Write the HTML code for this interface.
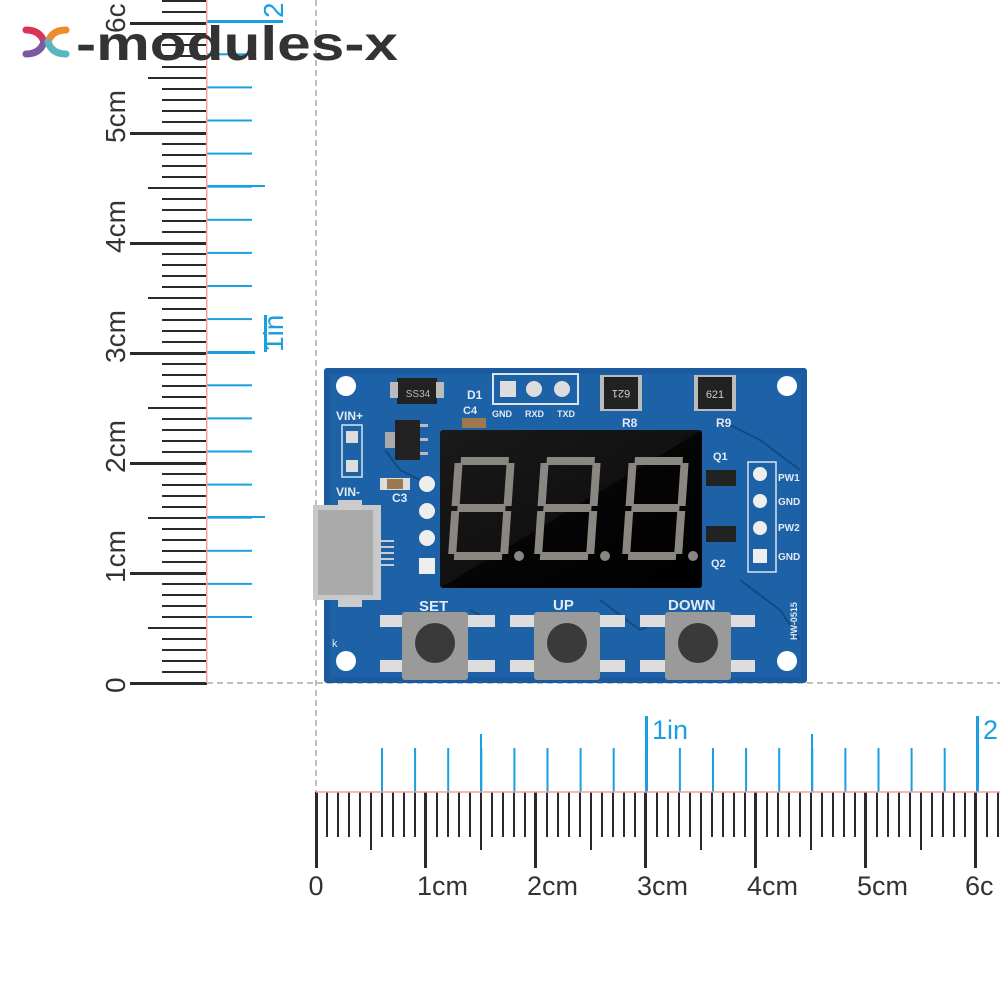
<!DOCTYPE html>
<html><head><meta charset="utf-8"><style>
html,body{margin:0;padding:0;background:#fff;width:1000px;height:1000px;overflow:hidden}
svg{display:block}
text{font-family:"Liberation Sans",Arial,sans-serif}
</style></head><body>
<svg width="1000" height="1000" viewBox="0 0 1000 1000" xmlns="http://www.w3.org/2000/svg">
<defs>
<pattern id="hmm" patternUnits="userSpaceOnUse" x="315" y="0" width="11" height="10"><rect x="0" y="0" width="2" height="10" fill="#2a2a2a"/></pattern>
<pattern id="hbl" patternUnits="userSpaceOnUse" x="381" y="0" width="33.1" height="10"><rect x="0" y="0" width="2" height="10" fill="#1aa0e0"/></pattern>
<pattern id="vmm" patternUnits="userSpaceOnUse" x="0" y="682" width="10" height="11"><rect x="0" y="0" width="10" height="2" fill="#2a2a2a"/></pattern>
<pattern id="vbl" patternUnits="userSpaceOnUse" x="0" y="616" width="10" height="33.1"><rect x="0" y="0" width="10" height="2" fill="#1aa0e0"/></pattern>
<linearGradient id="disp" x1="0" y1="0" x2="1" y2="1"><stop offset="0" stop-color="#1a1a1a"/><stop offset="0.5" stop-color="#111"/><stop offset="0.5" stop-color="#050505"/><stop offset="1" stop-color="#000"/></linearGradient>
<g id="dig" fill="#8a8682">
<rect x="6" y="0" width="48" height="8"/>
<rect x="6" y="47" width="48" height="8"/>
<rect x="6" y="95" width="48" height="8"/>
<rect x="0" y="6" width="8" height="43"/>
<rect x="52" y="6" width="8" height="43"/>
<rect x="0" y="54" width="8" height="43"/>
<rect x="52" y="54" width="8" height="43"/>
</g>
</defs>

<line x1="316" y1="0" x2="316" y2="792" stroke="#aaa" stroke-width="1.5" stroke-dasharray="6,4"/>
<line x1="207" y1="683" x2="1000" y2="683" stroke="#aaa" stroke-width="1.5" stroke-dasharray="6,4"/>

<rect x="315" y="792" width="685" height="45" fill="url(#hmm)"/>
<g fill="#2a2a2a">
<rect x="370" y="792" width="2" height="58"/><rect x="480" y="792" width="2" height="58"/><rect x="590" y="792" width="2" height="58"/><rect x="700" y="792" width="2" height="58"/><rect x="810" y="792" width="2" height="58"/><rect x="920" y="792" width="2" height="58"/>
<rect x="315" y="792" width="3" height="76"/><rect x="424" y="792" width="3" height="76"/><rect x="534" y="792" width="3" height="76"/><rect x="644" y="792" width="3" height="76"/><rect x="754" y="792" width="3" height="76"/><rect x="864" y="792" width="3" height="76"/><rect x="974" y="792" width="3" height="76"/>
</g>
<rect x="381" y="748" width="619" height="44" fill="url(#hbl)"/>
<g fill="#1aa0e0">
<rect x="480" y="734" width="2" height="58"/><rect x="811" y="734" width="2" height="58"/>
<rect x="645" y="716" width="3" height="76"/><rect x="976" y="716" width="3" height="76"/>
</g>
<line x1="316" y1="792" x2="1000" y2="792" stroke="#f4a0a0" stroke-width="1.5"/>
<g font-size="27" fill="#333">
<text x="316" y="895" text-anchor="middle">0</text>
<text x="417" y="895">1cm</text>
<text x="527" y="895">2cm</text>
<text x="637" y="895">3cm</text>
<text x="747" y="895">4cm</text>
<text x="857" y="895">5cm</text>
<text x="965" y="895">6c</text>
</g>
<g font-size="27" fill="#1aa0e0">
<text x="652" y="739">1in</text>
<text x="983" y="739">2</text>
</g>

<rect x="162" y="0" width="45" height="684" fill="url(#vmm)"/>
<g fill="#2a2a2a">
<rect x="148" y="627" width="59" height="2"/><rect x="148" y="517" width="59" height="2"/><rect x="148" y="407" width="59" height="2"/><rect x="148" y="297" width="59" height="2"/><rect x="148" y="187" width="59" height="2"/><rect x="148" y="77" width="59" height="2"/>
<rect x="130" y="682" width="77" height="3"/><rect x="130" y="572" width="77" height="3"/><rect x="130" y="462" width="77" height="3"/><rect x="130" y="352" width="77" height="3"/><rect x="130" y="242" width="77" height="3"/><rect x="130" y="132" width="77" height="3"/><rect x="130" y="22" width="77" height="3"/>
</g>
<rect x="207" y="0" width="45" height="618" fill="url(#vbl)"/>
<g fill="#1aa0e0">
<rect x="207" y="516" width="58" height="2"/><rect x="207" y="185" width="58" height="2"/>
<rect x="207" y="351" width="48" height="3"/><rect x="207" y="20" width="76" height="3"/>
<rect x="264" y="315" width="3" height="37"/>
</g>
<rect x="206" y="0" width="1.5" height="683" fill="#f4a0a0"/>
<g font-size="28" fill="#333">
<text transform="translate(125,693) rotate(-90)">0</text>
<text transform="translate(125,583) rotate(-90)">1cm</text>
<text transform="translate(125,473) rotate(-90)">2cm</text>
<text transform="translate(125,363) rotate(-90)">3cm</text>
<text transform="translate(125,253) rotate(-90)">4cm</text>
<text transform="translate(125,143) rotate(-90)">5cm</text>
<text transform="translate(125,33) rotate(-90)">6c</text>
</g>
<g font-size="28" fill="#1aa0e0">
<text transform="translate(283,352) rotate(-90)">1in</text>
<text transform="translate(283,18) rotate(-90)">2</text>
</g>

<g stroke-width="7" stroke-linecap="round" fill="none">
<path d="M26 30 Q40 30 44 42" stroke="#d9335a"/>
<path d="M26 54 Q40 54 44 42" stroke="#7b5aa0"/>
<path d="M66 30 Q52 30 48 42" stroke="#ef8b2c"/>
<path d="M66 54 Q52 54 48 42" stroke="#5ab5c0"/>
</g>
<text x="76" y="60" font-size="48" font-weight="bold" fill="#333" textLength="322" lengthAdjust="spacingAndGlyphs">-modules-x</text>

<rect x="324" y="368" width="483" height="315" rx="3" fill="#1b5a9e"/>
<rect x="330" y="374" width="471" height="303" fill="#2068ad" opacity="0.5"/>
<g fill="#fff"><circle cx="346" cy="386" r="10"/><circle cx="787" cy="386" r="10"/><circle cx="346" cy="661" r="10"/><circle cx="787" cy="661" r="10"/></g>
<g stroke="#144a82" stroke-width="2" fill="none">
<path d="M720 420 L760 440 L800 470"/><path d="M740 580 L780 610 L800 640"/><path d="M600 600 L640 630 L660 620"/><path d="M470 610 L490 620"/><path d="M385 450 L400 470 L420 480"/>
</g>
<rect x="397" y="378" width="40" height="26" fill="#222"/><rect x="390" y="382" width="8" height="16" fill="#bbb"/><rect x="436" y="382" width="8" height="16" fill="#bbb"/>
<text x="418" y="397" font-size="10" fill="#bbb" text-anchor="middle">SS34</text>
<rect x="493" y="374" width="85" height="30" fill="none" stroke="#d8e4ef" stroke-width="2"/>
<rect x="500" y="381" width="16" height="16" fill="#ddd"/><circle cx="534" cy="389" r="8" fill="#ddd"/><circle cx="562" cy="389" r="8" fill="#ddd"/>
<g font-size="9" fill="#e0eaf4" font-weight="bold"><text x="492" y="417">GND</text><text x="525" y="417">RXD</text><text x="557" y="417">TXD</text>
<text x="467" y="399" font-size="12">D1</text><text x="463" y="414" font-size="11">C4</text>
<text x="622" y="427" font-size="12">R8</text><text x="716" y="427" font-size="12">R9</text>
<text x="713" y="460" font-size="11">Q1</text><text x="711" y="567" font-size="11">Q2</text>
<text x="336" y="420" font-size="12">VIN+</text><text x="336" y="496" font-size="12">VIN-</text><text x="392" y="502" font-size="12">C3</text>
<text x="419" y="611" font-size="15">SET</text><text x="553" y="610" font-size="15">UP</text><text x="668" y="610" font-size="15">DOWN</text>
<text x="778" y="481" font-size="10">PW1</text><text x="778" y="505" font-size="10">GND</text><text x="778" y="531" font-size="10">PW2</text><text x="778" y="560" font-size="10">GND</text>
<text x="332" y="647" font-size="11" font-weight="normal">k</text>
<text transform="translate(797,640) rotate(-90)" font-size="9">HW-0515</text>
</g>
<rect x="600" y="375" width="42" height="36" fill="#bbb"/><rect x="604" y="377" width="34" height="32" fill="#222"/>
<text x="621" y="398" font-size="11" fill="#ccc" text-anchor="middle" transform="rotate(180 621 394)">621</text>
<rect x="694" y="375" width="42" height="36" fill="#bbb"/><rect x="698" y="377" width="34" height="32" fill="#222"/>
<text x="715" y="398" font-size="11" fill="#ccc" text-anchor="middle">621</text>
<rect x="395" y="420" width="25" height="40" fill="#222"/><rect x="385" y="432" width="10" height="16" fill="#aaa"/>
<rect x="420" y="424" width="8" height="3" fill="#bbb"/><rect x="420" y="438" width="8" height="3" fill="#bbb"/><rect x="420" y="452" width="8" height="3" fill="#bbb"/>
<rect x="342" y="425" width="20" height="52" fill="none" stroke="#d8e4ef" stroke-width="1.5"/>
<rect x="346" y="431" width="12" height="12" fill="#ddd"/><rect x="346" y="460" width="12" height="12" fill="#ddd"/>
<rect x="380" y="478" width="30" height="12" fill="#ddd"/><rect x="387" y="479" width="16" height="10" fill="#a07850"/>
<rect x="462" y="418" width="24" height="10" fill="#a07850"/>
<g fill="#eee"><circle cx="427" cy="484" r="8"/><circle cx="427" cy="511" r="8"/><circle cx="427" cy="538" r="8"/><rect x="419" y="558" width="16" height="16"/></g>
<rect x="313" y="505" width="68" height="95" fill="#c8c8c8"/><rect x="318" y="510" width="55" height="85" fill="#aaa"/>
<rect x="338" y="500" width="24" height="10" fill="#ccc"/><rect x="338" y="597" width="24" height="10" fill="#ccc"/>
<g fill="#ccc"><rect x="378" y="540" width="16" height="2"/><rect x="378" y="546" width="16" height="2"/><rect x="378" y="552" width="16" height="2"/><rect x="378" y="558" width="16" height="2"/><rect x="378" y="564" width="16" height="2"/></g>
<rect x="440" y="430" width="262" height="158" rx="3" fill="url(#disp)"/>
<use href="#dig" transform="translate(455,457) skewX(-4)"/>
<use href="#dig" transform="translate(541,457) skewX(-4)"/>
<use href="#dig" transform="translate(629,457) skewX(-4)"/>
<g fill="#8a8682"><circle cx="519" cy="556" r="5"/><circle cx="605" cy="556" r="5"/><circle cx="693" cy="556" r="5"/></g>
<rect x="706" y="470" width="30" height="16" fill="#222"/><rect x="706" y="526" width="30" height="16" fill="#222"/>
<rect x="748" y="462" width="28" height="110" fill="none" stroke="#d8e4ef" stroke-width="1.5"/>
<g fill="#eee"><circle cx="760" cy="474" r="7"/><circle cx="760" cy="501" r="7"/><circle cx="760" cy="528" r="7"/><rect x="753" y="549" width="14" height="14"/></g>
<g>
<rect x="380" y="615" width="115" height="12" fill="#ddd"/><rect x="380" y="660" width="115" height="12" fill="#ddd"/>
<rect x="402" y="612" width="66" height="68" rx="3" fill="#9a9a9a"/><circle cx="435" cy="643" r="20" fill="#3a3a3a"/>
<rect x="510" y="615" width="115" height="12" fill="#ddd"/><rect x="510" y="660" width="115" height="12" fill="#ddd"/>
<rect x="534" y="612" width="66" height="68" rx="3" fill="#9a9a9a"/><circle cx="567" cy="643" r="20" fill="#3a3a3a"/>
<rect x="640" y="615" width="115" height="12" fill="#ddd"/><rect x="640" y="660" width="115" height="12" fill="#ddd"/>
<rect x="665" y="612" width="66" height="68" rx="3" fill="#9a9a9a"/><circle cx="698" cy="643" r="20" fill="#3a3a3a"/>
</g>
</svg>
</body></html>
